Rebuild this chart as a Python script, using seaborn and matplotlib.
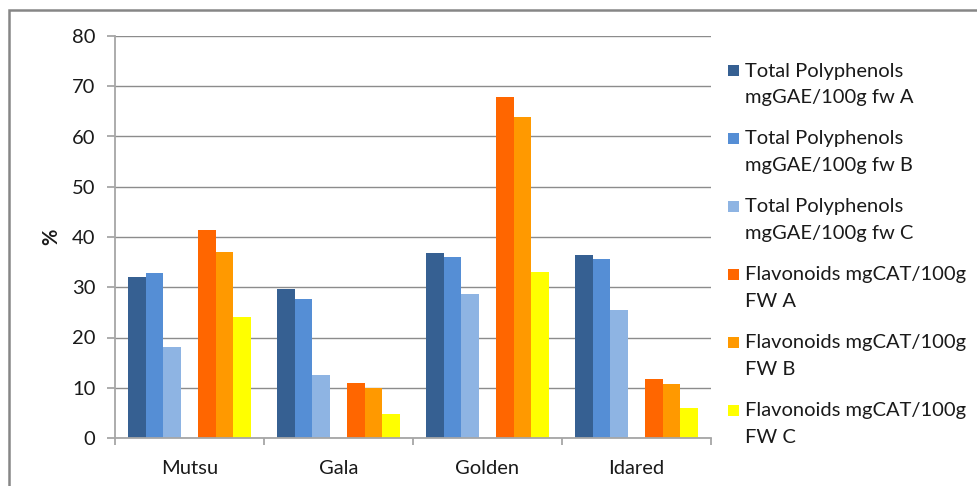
import pandas as pd
import matplotlib.pyplot as plt
import seaborn as sns
from matplotlib.patches import Rectangle

# Data
cultivars = ["Mutsu", "Gala", "Golden", "Idared"]
tp_a = [32.1, 29.6, 36.8, 36.4]
tp_b = [32.8, 27.6, 36.0, 35.6]
tp_c = [18.2, 12.6, 28.7, 25.5]
fl_a = [41.3, 10.9, 67.8, 11.7]
fl_b = [37.0, 10.0, 63.8, 10.7]
fl_c = [24.0, 4.7, 33.0, 6.0]

series_labels = [
    "Total Polyphenols\nmgGAE/100g fw A",
    "Total Polyphenols\nmgGAE/100g fw B",
    "Total Polyphenols\nmgGAE/100g fw C",
    "Flavonoids mgCAT/100g\nFW A",
    "Flavonoids mgCAT/100g\nFW B",
    "Flavonoids mgCAT/100g\nFW C",
]
series_values = [tp_a, tp_b, tp_c, fl_a, fl_b, fl_c]
colors = ["#366092", "#558ED5", "#8EB4E3", "#FF6600", "#FF9900", "#FFFF00"]

# empty series slot between the two groups (as in the original sheet)
blank = " "
hue_order = series_labels[:3] + [blank] + series_labels[3:]

rows = []
for lab, vals in zip(series_labels, series_values):
    for c, v in zip(cultivars, vals):
        rows.append({"cultivar": c, "series": lab, "value": v})
df = pd.DataFrame(rows)

palette = dict(zip(series_labels, colors))
palette[blank] = "white"

sns.set_style("white")
plt.rcParams["font.family"] = ["Lato", "DejaVu Sans"]
fs = 14.5

fig = plt.figure(figsize=(9.77, 4.86), dpi=100)
ax = fig.add_axes([115 / 977, 1 - 438 / 486, 596 / 977, 402 / 486])

sns.barplot(data=df, x="cultivar", y="value", hue="series", hue_order=hue_order,
            order=cultivars, palette=palette, saturation=1, width=7 / 8.5,
            linewidth=0, legend=False, ax=ax)

ax.set_xlim(-0.5, len(cultivars) - 0.5)
ax.set_ylim(0, 80)
ax.set_yticks(range(0, 81, 10))
ax.yaxis.grid(True, color="#8c8c8c", linewidth=1.0)
ax.set_axisbelow(True)

for s in ["top", "right"]:
    ax.spines[s].set_visible(False)
for s in ["left", "bottom"]:
    ax.spines[s].set_color("#a6a6a6")
    ax.spines[s].set_linewidth(1.3)

ax.tick_params(axis="y", length=6, width=1.3, color="#a6a6a6", pad=8,
               labelsize=fs, labelcolor="#1a1a1a", left=True)
ax.set_xticks(range(len(cultivars)))
ax.set_xticks([i - 0.5 for i in range(len(cultivars) + 1)], minor=True)
ax.tick_params(axis="x", which="major", length=0, pad=16, labelsize=fs,
               labelcolor="#1a1a1a")
ax.tick_params(axis="x", which="minor", length=5, width=1.3, color="#a6a6a6",
               bottom=True)

ax.set_xlabel("")
ax.set_ylabel("%", fontsize=fs, fontweight="bold", color="#1a1a1a")
ax.yaxis.set_label_coords(-0.091, 0.5)

# legend drawn entry by entry, square next to first line
for k, (lab, col) in enumerate(zip(series_labels, colors)):
    y1 = 71 + 67.9 * k
    fig.patches.append(Rectangle((728 / 977, 1 - (y1 + 5.5) / 486), 11 / 977, 11 / 486,
                                 transform=fig.transFigure, facecolor=col,
                                 edgecolor="none"))
    for j, line in enumerate(lab.split("\n")):
        fig.text(745 / 977, 1 - (y1 + 27 * j) / 486, line, fontsize=fs,
                 color="#1a1a1a", va="center", ha="left")

# chart frame (runs off the right and bottom edges)
fig.patches.append(Rectangle((9 / 977, -0.1), 1.2, 1.1 - 10 / 486,
                             transform=fig.transFigure, fill=False,
                             edgecolor="#868686", linewidth=1.8))

fig.savefig("out.png", dpi=100)
